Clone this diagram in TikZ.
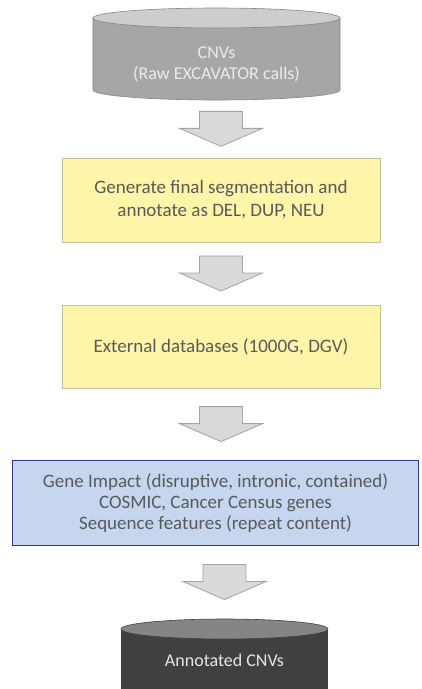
\documentclass[tikz,border=0pt]{standalone}
\usepackage{fontspec}
\setmainfont{Carlito}
\usetikzlibrary{calc}
\definecolor{boxyellow}{HTML}{FFF5A8}
\definecolor{yellowline}{HTML}{C4C09A}
\definecolor{impactblue}{HTML}{C6D6EF}
\definecolor{impactline}{HTML}{34379A}
\definecolor{textgrey}{HTML}{595959}
\definecolor{arrowgrey}{HTML}{D9D9D9}
\definecolor{arrowline}{HTML}{A3A3A3}
\definecolor{rawbody}{HTML}{A6A6A6}
\definecolor{rawlid}{HTML}{CDCDCD}
\definecolor{outbody}{HTML}{404040}
\definecolor{outlid}{HTML}{858585}
\begin{document}
\begin{tikzpicture}[x=1pt,y=-1pt,
  stepbox/.style={draw=yellowline,line width=1pt,fill=boxyellow,text=textgrey,align=center,
    minimum width=318pt,minimum height=84pt,font=\fontsize{19}{23}\selectfont},
  flow/.pic={\filldraw[draw=arrowline,fill=arrowgrey,line width=0.8pt]
    (-21.5,-17.5) -- (21.5,-17.5) -- (21.5,-0.5) -- (41.5,-0.5) -- (0,17.5)
    -- (-41.5,-0.5) -- (-21.5,-0.5) -- cycle;}]
  \useasboundingbox[fill=white] (0,0) rectangle (421,689);

  \filldraw[fill=rawbody,draw=rawbody!80!black,line width=0.6pt]
    (93,18) -- (93,90) arc[start angle=180,end angle=0,x radius=123.5,y radius=10] -- (340,18) -- cycle;
  \filldraw[fill=rawlid,draw=rawbody!80!black,line width=0.6pt]
    (216.5,18) ellipse[x radius=123.5,y radius=10];
  \node[text=white!92!black,align=center,minimum width=247pt,minimum height=72pt,
    font=\fontsize{18}{21}\selectfont] (raw) at (216.5,64) {CNVs\\(Raw EXCAVATOR calls)};

  \node[stepbox] (seg) at (221,200) {Generate final segmentation and\\annotate as DEL, DUP, NEU};
  \node[stepbox,minimum height=83pt] (ext) at (221,346.5) {External databases (1000G, DGV)};
  \node[draw=impactline,line width=1.5pt,fill=impactblue,text=textgrey,align=center,
    minimum width=406pt,minimum height=85pt,font=\fontsize{19}{21}\selectfont] (impact) at (215.5,503)
    {Gene Impact (disruptive, intronic, contained)\\COSMIC, Cancer Census genes\\Sequence features (repeat content)};

  \fill[outbody] (121,629) -- (121,700) -- (328,700) -- (328,629) -- cycle;
  \filldraw[fill=outlid,draw=outbody,line width=0.6pt]
    (224.5,629) ellipse[x radius=103.5,y radius=10];
  \node[text=white!90!black,minimum width=207pt,minimum height=84pt,
    font=\fontsize{18}{21}\selectfont] (annot) at (224.5,660) {Annotated CNVs};

  \pic at ($(raw.south -| seg.north)!0.5!(seg.north)$) {flow};
  \pic at ($(seg.south)!0.5!(ext.north)$) {flow};
  \pic at ($(ext.south)!0.5!(impact.north -| ext.south)$) {flow};
  \pic at ($(impact.south -| annot.north)!0.5!(annot.north)$) {flow};
\end{tikzpicture}
\end{document}
